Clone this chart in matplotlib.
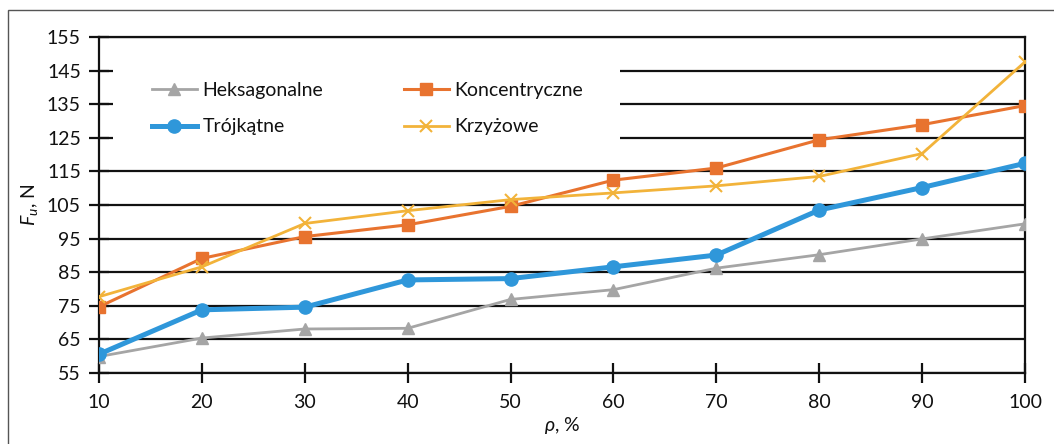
import matplotlib
matplotlib.use("Agg")
import matplotlib.pyplot as plt
from matplotlib.patches import Rectangle

plt.rcParams['font.family'] = ['Lato', 'DejaVu Sans']
plt.rcParams['mathtext.fontset'] = 'custom'
plt.rcParams['mathtext.it'] = 'Lato:italic'
plt.rcParams['mathtext.rm'] = 'Lato'

rho = [10, 20, 30, 40, 50, 60, 70, 80, 90, 100]
heksagonalne = [59.9, 65.4, 68.1, 68.3, 76.9, 79.8, 86.2, 90.2, 94.9, 99.4]
trojkatne = [60.6, 73.8, 74.6, 82.7, 83.1, 86.6, 90.1, 103.5, 110.2, 117.4]
koncentryczne = [74.7, 89.1, 95.6, 99.1, 104.6, 112.4, 116.0, 124.4, 128.9, 134.6]
krzyzowe = [77.7, 86.6, 99.5, 103.3, 106.6, 108.6, 110.7, 113.5, 120.3, 147.6]
yticks = list(range(55, 156, 10))

TXT = '#111111'
FS = 14

fig = plt.figure(figsize=(10.54, 4.44), dpi=100)
W, H = 1054, 444
ax = fig.add_axes([99 / W, (H - 373) / H, (1025 - 99) / W, (373 - 37) / H])

# outer frame (cropped at right and bottom)
fig.patches.append(Rectangle((8 / W, -0.1), 1.2, (H - 10) / H + 0.1,
                             transform=fig.transFigure, fill=False,
                             edgecolor='#555555', linewidth=1.0))

ax.set_axisbelow(True)
ax.set_xlim(10, 100)
ax.set_ylim(55, 155)
ax.set_xticks(rho)
ax.set_yticks(yticks)
ax.yaxis.grid(True, color='#111111', linewidth=1.6)
for s in ax.spines.values():
    s.set_color('#111111')
    s.set_linewidth(1.6)
ax.tick_params(axis='both', direction='inout', length=14, width=1.6,
               color='#111111', labelsize=FS, labelcolor=TXT)
ax.tick_params(axis='y', pad=6)
ax.tick_params(axis='x', pad=8)

# white background behind the legend
ax.add_patch(Rectangle((14 / 926, (373 - 158) / 336), (620 - 113) / 926,
                       (158 - 48) / 336, transform=ax.transAxes,
                       facecolor='white', edgecolor='none', zorder=1))

ax.plot(rho, heksagonalne, color='#A5A5A5', linewidth=2.0, marker='^',
        markersize=8, label='Heksagonalne', zorder=3)
ax.plot(rho, trojkatne, color='#2F97DA', linewidth=3.6, marker='o',
        markersize=9.5, label='Trójkątne', zorder=4)
ax.plot(rho, koncentryczne, color='#E8732F', linewidth=2.2, marker='s',
        markersize=8, label='Koncentryczne', zorder=3)
ax.plot(rho, krzyzowe, color='#F2B33A', linewidth=2.0, marker='x',
        markersize=9, markeredgewidth=1.5, label='Krzyżowe', zorder=3)

ax.legend(loc='upper left', bbox_to_anchor=(53 / 926, (373 - 82) / 336),
          ncol=2, frameon=False, fontsize=FS, borderpad=0,
          handlelength=2.3, handletextpad=0.3, columnspacing=4.15,
          labelspacing=1.0, borderaxespad=0, labelcolor=TXT)

ax.set_xlabel(r'$\rho$, %', fontsize=FS, color=TXT, labelpad=3)
ax.set_ylabel(r'$F_u$, N', fontsize=FS, color=TXT, labelpad=5)

fig.savefig('out.png', dpi=100)
